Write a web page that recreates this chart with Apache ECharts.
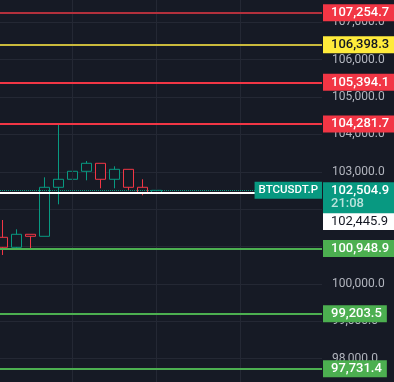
<!DOCTYPE html>
<html><head><meta charset="utf-8">
<script src="https://cdn.jsdelivr.net/npm/echarts@6/dist/echarts.min.js"></script>
<style>html,body{margin:0;padding:0;background:#161a25;}#c{width:394px;height:382px;}</style>
</head><body><div id="c"></div>
<script>
// ---- data ----
const candleIdx = [1,2,3,4,5,6,7,8,9,10,11,12];
const opens  = [101248,100981,101329,101275,102586,102800,103014,103228,102800,103067,102586,102425];
const closes = [100981,101329,101275,102586,102800,103014,103228,102800,103067,102586,102425,102504.9];
const lows   = [100775,100954,100935,101275,102131,102399,102773,102559,102559,102514,102372,102372];
const highs  = [101711,101462,101329,102853,104300,103209,103289,103228,103148,103067,102800,102693];
const levels = [107254.7, 106398.3, 105394.1, 104281.7, 100948.9, 99203.5, 97731.4];
const levelKinds = ['dimRed','yellow','red','red','green','green','green'];
const lastPrice = 102504.9;
const refPrice = 102445.9;
const symbolName = 'BTCUSDT.P';
const countdown = '21:08';
const timeGridIdx = [6, 12, 18];
const yMin = 97000, yMax = 108000, yStep = 1000;

// ---- styles ----
const BG = '#161a25', GRID = '#242834';
const UP = '#089981', DOWN = '#f23645';
const kindStyle = {
  dimRed: {line: '#b3303c', bg: '#f23645', fg: '#ffffff'},
  red:    {line: '#f23645', bg: '#f23645', fg: '#ffffff'},
  yellow: {line: '#c9b93c', bg: '#ffeb3b', fg: '#131722'},
  green:  {line: '#4caf50', bg: '#4caf50', fg: '#ffffff'}
};
const FONT = 'Roboto';
const fmt = v => v.toLocaleString('en-US', {minimumFractionDigits: 1, maximumFractionDigits: 1});

const baseLabel = {
  show: true, position: 'end', distance: 1, fontFamily: FONT, fontSize: 13, fontWeight: 500,
  lineHeight: 13, padding: [2, 5, 2, 8]
};

const levelLines = levels.map((v, i) => {
  const s = kindStyle[levelKinds[i]];
  return {
    yAxis: v,
    lineStyle: {color: s.line, width: 2, type: 'solid'},
    label: Object.assign({}, baseLabel, {formatter: fmt(v), backgroundColor: s.bg, color: s.fg})
  };
});

const refLine = {
  yAxis: refPrice,
  lineStyle: {color: '#ffffff', width: 2, type: 'solid'},
  label: Object.assign({}, baseLabel, {formatter: fmt(refPrice), backgroundColor: '#ffffff', color: '#131722',
    fontWeight: 'normal', offset: [0, 29], padding: [2, 7, 2, 8]})
};
const priceLine = {
  yAxis: lastPrice,
  lineStyle: {color: UP, width: 1, type: 'dotted'},
  label: {show: true, position: 'insideEnd', distance: 0, formatter: symbolName, backgroundColor: UP,
    color: '#ffffff', fontFamily: FONT, fontSize: 11.5, fontWeight: 500, lineHeight: 13, padding: [2, 4, 2, 4]}
};
const priceBox = {
  yAxis: lastPrice,
  lineStyle: {color: 'rgba(0,0,0,0)', width: 0},
  label: Object.assign({}, baseLabel, {
    formatter: '{a|' + fmt(lastPrice) + '}\n{b|' + countdown + '}',
    backgroundColor: UP, offset: [0, 7.5], padding: [2, 7, 3, 8],
    rich: {a: {color: '#ffffff', fontFamily: FONT, fontSize: 13, fontWeight: 500, lineHeight: 13},
           b: {color: 'rgba(255,255,255,0.72)', fontFamily: FONT, fontSize: 13, fontWeight: 500, lineHeight: 13}}
  })
};

const chart = echarts.init(document.getElementById('c'), null, {renderer: 'canvas'});
chart.setOption({
  backgroundColor: BG,
  animation: false,
  grid: {left: 0, right: 72, top: -15.08, bottom: -14.1, containLabel: false, outerBoundsMode: 'none'},
  xAxis: {type: 'value', min: 1 - 2.5 / 14, max: 1 + (322 - 2.5) / 14, show: false},
  yAxis: {
    type: 'value', position: 'right', min: yMin, max: yMax, interval: yStep,
    axisLine: {show: false}, axisTick: {show: false},
    axisLabel: {color: '#b2b5be', fontFamily: FONT, fontSize: 12, margin: 10, formatter: v => fmt(v)},
    splitLine: {show: true, lineStyle: {color: GRID, width: 1}}
  },
  series: [
    {
      type: 'line', data: [], z: 1, silent: true,
      markLine: {silent: true, symbol: ['none', 'none'], animation: false,
        label: {show: false},
        lineStyle: {color: GRID, width: 1, type: 'solid'},
        data: timeGridIdx.map(x => ({xAxis: x}))}
    },
    {
      type: 'candlestick', z: 2, barWidth: 10,
      data: candleIdx.map((x, i) => [x, opens[i], closes[i], lows[i], highs[i]]),
      encode: {x: 0, y: [1, 2, 3, 4]},
      itemStyle: {color: BG, color0: BG, borderColor: UP, borderColor0: DOWN, borderWidth: 1}
    },
    {
      type: 'line', data: [], z: 3, silent: true,
      markLine: {silent: true, symbol: ['none', 'none'], animation: false, precision: 1,
        data: [refLine, priceLine].concat(levelLines, [priceBox])}
    }
  ]
});
</script></body></html>
